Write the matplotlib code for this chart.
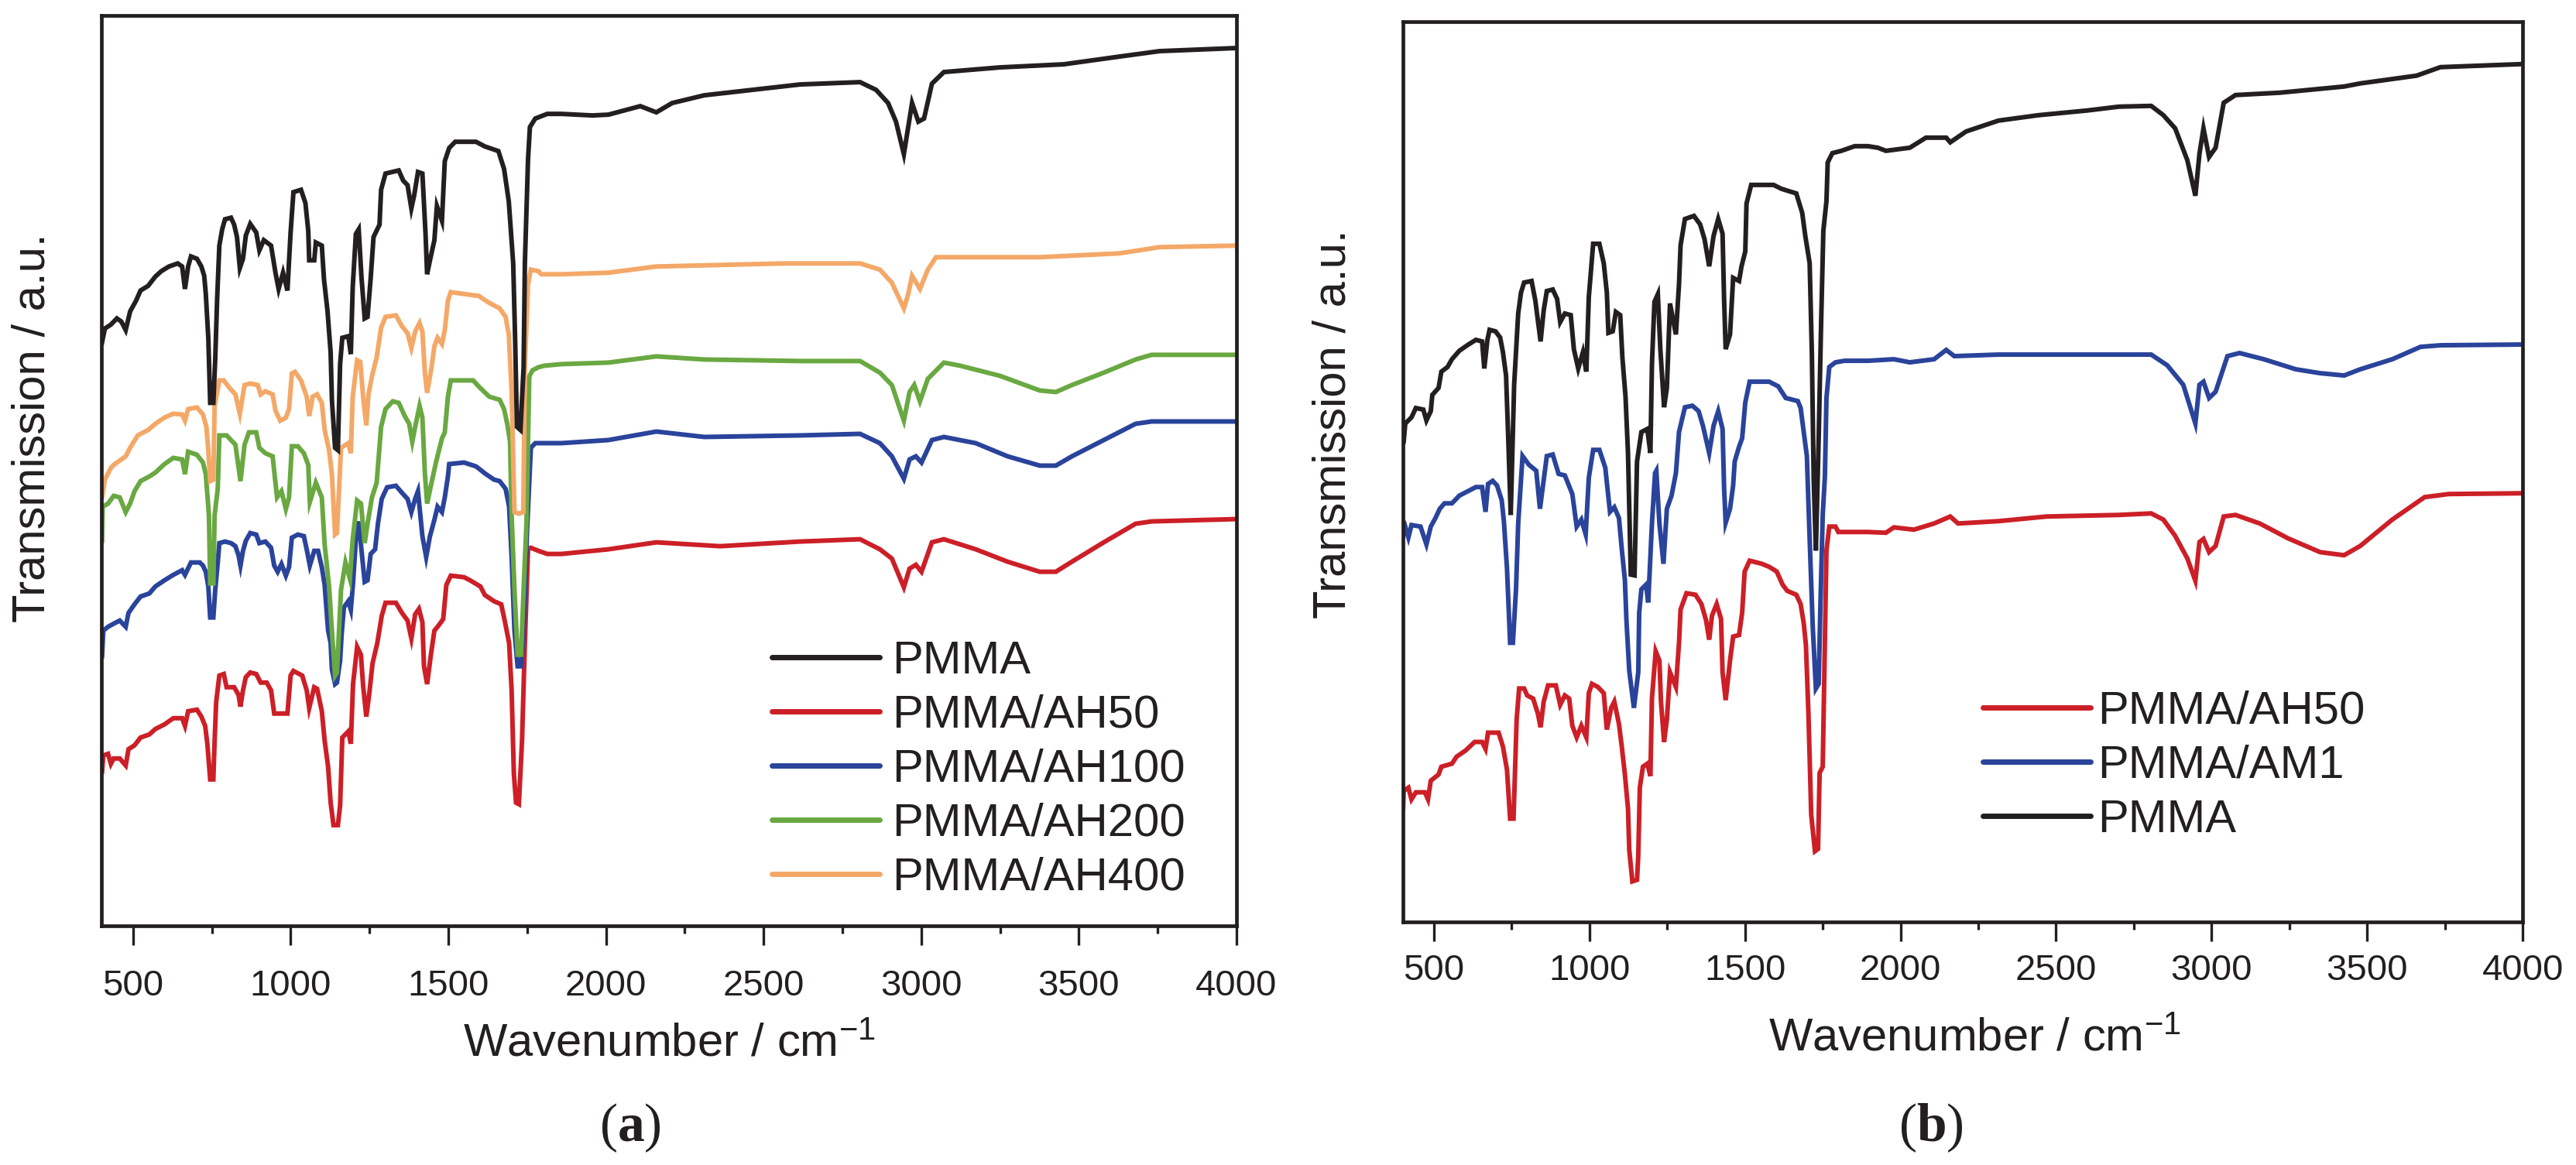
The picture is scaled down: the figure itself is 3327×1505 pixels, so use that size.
import numpy as np
import matplotlib
matplotlib.use("Agg")
from matplotlib import pyplot as plt
from matplotlib.ticker import MultipleLocator

plt.rcParams['font.family'] = ['Liberation Sans', 'DejaVu Sans']
plt.rcParams['mathtext.fontset'] = 'custom'
plt.rcParams['mathtext.rm'] = 'Liberation Sans'
plt.rcParams['mathtext.it'] = 'Liberation Sans:italic'
plt.rcParams['mathtext.bf'] = 'Liberation Serif:bold'

INK = '#231f20'
RED = '#cc1f27'
BLUE = '#2a439b'
GREEN = '#6aa842'
ORANGE = '#f4a868'

# (wavenumber cm-1, transmission a.u.)
# panel (a)
a_pmma = [(402,753),(411,771),(430,776),(449,784),(463,780),(477,769),(491,793),(510,807),(524,820),(548,826),(571,838),(590,845),(614,851),(642,855),(656,851),(665,822),(675,851),(684,864),(703,861),(717,851),(726,839),(731,816),(739,759),(745,675),(755,675),(761,732),(767,809),(774,878),(783,899),(792,912),(811,914),(821,905),(830,889),(839,849),(849,861),(858,891),(872,906),(891,895),(901,872),(915,885),(938,878),(952,843),(962,822),(976,843),(990,820),(1000,895),(1009,947),(1033,950),(1047,933),(1056,897),(1059,859),(1075,859),(1080,882),(1099,878),(1106,834),(1117,794),(1127,740),(1131,679),(1141,617),(1150,614),(1157,725),(1164,759),(1183,761),(1191,738),(1197,824),(1207,893),(1216,899),(1225,836),(1235,784),(1244,786),(1254,836),(1263,889),(1282,905),(1287,950),(1301,971),(1343,975),(1357,962),(1371,956),(1383,926),(1392,943),(1404,973),(1418,971),(1428,893),(1433,841),(1442,859),(1456,885),(1464,929),(1480,910),(1489,987),(1503,1004),(1522,1012),(1588,1012),(1616,1006),(1659,1000),(1677,977),(1692,935),(1706,855),(1712,759),(1718,644),(1729,640),(1739,721),(1743,855),(1753,989),(1759,1031),(1776,1042),(1814,1048),(1859,1048),(1957,1046),(2008,1047),(2109,1058),(2160,1050),(2210,1062),(2312,1072),(2464,1079),(2616,1086),(2806,1089),(2857,1079),(2895,1062),(2920,1038),(2945,996),(2958,1029),(2971,1062),(2991,1038),(3009,1042),(3034,1087),(3072,1102),(3249,1108),(3452,1112),(3629,1122),(3756,1129),(4000,1133)]

a_ah50 = [(402,199),(406,220),(421,222),(430,209),(439,216),(458,216),(477,207),(486,228),(505,233),(524,243),(552,247),(571,254),(600,260),(628,268),(656,268),(665,258),(675,277),(703,279),(717,270),(729,258),(736,235),(745,189),(755,189),(759,239),(764,289),(774,323),(788,325),(797,308),(821,308),(835,298),(841,283),(849,304),(858,321),(872,327),(891,325),(905,314),(924,314),(938,304),(948,274),(971,274),(990,274),(1000,323),(1009,329),(1037,323),(1051,304),(1059,281),(1075,308),(1084,306),(1099,277),(1108,239),(1119,205),(1127,159),(1136,130),(1150,130),(1157,155),(1164,243),(1183,251),(1191,235),(1198,312),(1211,360),(1223,350),(1230,310),(1240,270),(1249,298),(1260,339),(1275,365),(1289,400),(1301,417),(1334,417),(1353,404),(1371,394),(1383,371),(1395,402),(1407,409),(1418,392),(1423,335),(1433,312),(1445,350),(1456,381),(1470,388),(1484,396),(1494,440),(1508,452),(1550,450),(1569,446),(1602,438),(1616,427),(1645,419),(1668,415),(1680,392),(1693,365),(1701,304),(1708,197),(1715,159),(1724,157),(1734,239),(1743,365),(1753,486),(1762,488),(1786,484),(1814,480),(1859,480),(2008,486),(2160,495),(2362,490),(2616,496),(2806,499),(2869,486),(2907,474),(2945,437),(2963,461),(2983,466),(3001,457),(3034,495),(3072,499),(3173,486),(3274,470),(3376,457),(3427,457),(3478,470),(3579,495),(3680,519),(3731,522),(4000,525)]

a_ah100 = [(402,348),(406,381),(421,386),(439,390),(458,394),(477,386),(486,404),(505,415),(524,425),(552,429),(571,438),(600,446),(628,453),(656,459),(665,453),(684,469),(712,469),(722,465),(731,457),(739,438),(745,398),(755,398),(761,434),(769,469),(774,494),(792,496),(811,494),(825,490),(835,478),(841,465),(849,484),(858,497),(872,507),(891,505),(901,494),(920,496),(938,488),(948,465),(959,457),(971,467),(985,452),(995,463),(1004,501),(1023,505),(1042,503),(1051,486),(1061,465),(1075,484),(1087,484),(1099,463),(1108,440),(1113,413),(1119,381),(1127,365),(1131,331),(1141,312),(1147,314),(1157,342),(1162,377),(1169,411),(1183,419),(1191,408),(1198,442),(1207,499),(1216,522),(1226,480),(1235,444),(1244,446),(1254,480),(1268,486),(1277,519),(1289,551),(1306,566),(1334,568),(1353,559),(1371,551),(1383,534),(1395,551),(1404,561),(1418,503),(1430,476),(1442,503),(1456,524),(1466,541),(1480,534),(1489,553),(1499,580),(1503,596),(1550,598),(1588,593),(1607,587),(1616,584),(1645,576),(1663,574),(1682,564),(1693,541),(1701,476),(1710,381),(1720,335),(1731,335),(1739,381),(1750,511),(1762,617),(1776,623),(1859,623),(2008,627),(2160,638),(2312,631),(2616,633),(2806,635),(2869,623),(2907,606),(2945,577),(2963,602),(2983,606),(3001,598),(3034,627),(3072,631),(3173,623),(3274,606),(3376,594),(3427,594),(3478,606),(3579,627),(3680,648),(3731,651),(4000,651)]

a_ah200 = [(402,497),(404,541),(421,545),(439,555),(458,553),(477,534),(491,545),(505,561),(524,574),(552,580),(571,585),(600,596),(628,604),(656,602),(665,583),(675,612),(703,608),(722,598),(731,583),(741,530),(745,442),(755,442),(759,530),(769,564),(774,633),(797,633),(825,621),(841,574),(854,621),(868,637),(891,637),(901,617),(920,610),(943,606),(957,553),(971,561),(985,538),(995,553),(1004,619),(1023,619),(1042,610),(1056,595),(1061,547),(1080,572),(1099,553),(1108,492),(1122,438),(1131,381),(1141,323),(1147,327),(1160,434),(1174,469),(1188,448),(1197,499),(1211,549),(1223,545),(1235,494),(1244,519),(1258,553),(1273,572),(1287,644),(1301,667),(1324,677),(1343,675),(1362,658),(1376,648),(1386,625),(1395,644),(1409,671),(1418,656),(1426,583),(1433,545),(1447,572),(1461,598),(1480,629),(1489,637),(1499,683),(1508,704),(1579,704),(1597,696),(1630,683),(1663,679),(1677,667),(1687,648),(1696,625),(1701,530),(1710,434),(1720,350),(1731,350),(1739,434),(1748,519),(1757,709),(1767,717),(1786,721),(1805,723),(1859,725),(2008,727),(2160,735),(2312,731),(2616,729),(2806,729),(2869,714),(2907,698),(2945,652),(2963,689),(2978,698),(2996,677),(3021,706),(3072,727),(3123,723),(3249,710),(3376,691),(3427,689),(3478,698),(3579,714),(3680,731),(3731,737),(4000,737)]

a_ah400 = [(402,553),(411,576),(430,591),(439,595),(477,606),(491,617),(515,633),(548,640),(571,648),(600,656),(628,661),(656,660),(665,652),(675,667),(703,669),(722,660),(733,644),(739,614),(745,574),(755,576),(759,671),(774,704),(788,704),(807,694),(825,686),(839,661),(854,698),(872,700),(896,698),(905,686),(920,690),(943,686),(952,665),(967,652),(985,656),(995,667),(1004,713),(1014,715),(1033,704),(1051,683),(1059,658),(1070,683),(1084,686),(1099,675),(1108,640),(1122,614),(1131,583),(1141,505),(1147,507),(1160,617),(1183,623),(1191,610),(1197,683),(1211,730),(1221,728),(1230,683),(1240,646),(1247,686),(1258,709),(1273,734),(1287,772),(1301,786),(1334,788),(1353,774),(1371,765),(1383,746),(1395,767),(1409,778),(1418,767),(1426,713),(1433,688),(1447,721),(1456,748),(1466,759),(1480,751),(1489,769),(1499,807),(1508,818),(1541,816),(1597,813),(1626,805),(1663,797),(1682,786),(1692,763),(1701,690),(1710,534),(1724,532),(1738,534),(1743,721),(1753,828),(1762,847),(1786,845),(1795,841),(1859,841),(2008,843),(2160,851),(2362,853),(2565,855),(2806,855),(2869,847),(2907,830),(2945,797),(2958,814),(2971,839),(2996,822),(3021,847),(3047,863),(3123,863),(3376,863),(3629,868),(3756,876),(4000,878)]

# panel (b)
b_ah50 = [(401,146),(403,169),(418,173),(428,158),(442,167),(471,167),(481,158),(490,182),(515,190),(524,200),(558,204),(573,213),(602,221),(631,232),(655,232),(666,223),(674,244),(708,244),(722,226),(735,196),(745,133),(756,133),(761,196),(766,261),(774,301),(790,301),(800,292),(819,288),(834,269),(843,251),(853,284),(867,305),(892,305),(906,280),(921,292),(935,288),(945,253),(959,238),(974,253),(990,238),(998,295),(1008,307),(1027,303),(1046,295),(1056,248),(1070,276),(1080,284),(1095,255),(1104,226),(1114,190),(1124,146),(1128,93),(1138,52),(1153,54),(1157,85),(1162,173),(1172,200),(1186,204),(1196,188),(1201,288),(1213,349),(1225,337),(1230,284),(1240,232),(1249,261),(1259,322),(1278,303),(1288,360),(1293,403),(1312,424),(1341,422),(1360,410),(1375,389),(1385,364),(1394,395),(1409,410),(1423,391),(1428,322),(1438,286),(1452,337),(1462,368),(1481,370),(1491,399),(1499,452),(1515,466),(1554,462),(1578,458),(1602,452),(1621,435),(1636,427),(1665,422),(1679,410),(1689,385),(1696,357),(1704,270),(1713,138),(1725,91),(1735,94),(1740,192),(1750,200),(1757,360),(1762,479),(1771,510),(1791,510),(1800,503),(1895,503),(1953,502),(1979,509),(2043,506),(2108,514),(2160,523),(2185,514),(2315,517),(2470,523),(2702,525),(2806,527),(2845,519),(2883,498),(2922,469),(2948,440),(2961,490),(2974,494),(2992,477),(3013,485),(3039,523),(3077,525),(3155,514),(3245,495),(3349,477),(3426,473),(3478,485),(3581,519),(3685,548),(3762,552),(4000,553)]

b_am1 = [(401,498),(403,517),(418,496),(428,512),(457,510),(476,487),(490,510),(505,521),(519,533),(534,540),(558,540),(582,550),(611,556),(635,561),(655,561),(666,529),(674,565),(689,569),(703,563),(718,544),(725,517),(735,456),(745,360),(754,360),(764,429),(771,514),(785,601),(805,590),(829,582),(841,533),(863,601),(882,603),(901,578),(921,576),(945,552),(959,510),(974,519),(988,500),(998,573),(1012,609),(1032,609),(1051,586),(1056,567),(1066,529),(1080,535),(1095,521),(1104,481),(1114,441),(1119,389),(1128,324),(1143,276),(1157,322),(1160,399),(1167,429),(1182,435),(1189,412),(1201,514),(1211,579),(1215,582),(1225,514),(1238,462),(1249,533),(1264,550),(1278,579),(1288,632),(1307,664),(1331,666),(1351,659),(1365,640),(1385,605),(1399,640),(1414,659),(1428,636),(1433,559),(1438,515),(1452,533),(1462,563),(1467,594),(1481,613),(1491,624),(1501,670),(1515,697),(1578,697),(1607,691),(1631,676),(1670,672),(1679,663),(1689,632),(1699,601),(1708,494),(1718,380),(1728,301),(1737,307),(1742,399),(1750,525),(1757,575),(1762,676),(1771,716),(1791,722),(1820,724),(1895,724),(1979,726),(2030,722),(2108,726),(2147,738),(2173,730),(2315,732),(2702,732),(2806,732),(2858,718),(2909,693),(2948,643),(2961,693),(2974,697),(2992,676),(3013,684),(3051,730),(3090,734),(3168,726),(3271,713),(3349,708),(3426,705),(3478,713),(3581,726),(3672,742),(3736,744),(4000,745)]

b_pmma = [(403,620),(408,643),(428,651),(442,663),(466,661),(476,647),(490,659),(495,680),(515,689),(524,710),(544,716),(558,726),(582,737),(611,745),(635,751),(655,749),(662,714),(672,751),(679,764),(698,762),(713,754),(722,735),(732,705),(739,624),(747,525),(758,693),(771,785),(780,812),(790,825),(814,827),(826,802),(834,777),(843,749),(853,789),(863,814),(882,816),(896,804),(906,774),(921,785),(940,783),(950,739),(964,714),(979,735),(990,710),(998,806),(1012,875),(1032,875),(1046,850),(1056,812),(1061,760),(1075,762),(1085,787),(1099,783),(1106,728),(1116,678),(1124,605),(1133,448),(1145,447),(1153,594),(1167,632),(1186,636),(1196,605),(1201,720),(1209,800),(1220,810),(1228,739),(1240,664),(1249,689),(1259,798),(1278,758),(1288,823),(1293,873),(1307,907),(1336,911),(1356,900),(1370,881),(1385,846),(1399,885),(1414,907),(1428,888),(1433,802),(1438,739),(1452,758),(1462,831),(1481,827),(1489,846),(1501,865),(1505,927),(1520,951),(1592,951),(1617,946),(1665,940),(1684,915),(1694,885),(1708,850),(1715,735),(1721,571),(1728,479),(1737,624),(1744,758),(1752,892),(1762,930),(1766,980),(1781,992),(1810,995),(1853,1001),(1895,1001),(1927,999),(1953,995),(2030,999),(2082,1012),(2147,1012),(2160,1006),(2211,1020),(2315,1034),(2444,1041),(2599,1047),(2702,1052),(2806,1053),(2845,1041),(2883,1024),(2922,983),(2948,937),(2961,991),(2974,1024),(2992,987),(3013,999),(3039,1057),(3077,1067),(3219,1070),(3426,1078),(3478,1082),(3659,1092),(3736,1103),(3866,1105),(4000,1107)]

xticks = [500, 1000, 1500, 2000, 2500, 3000, 3500, 4000]

# drawing order (bottom to top) and legend order are different
series_a = [('PMMA/AH50', a_ah50, RED), ('PMMA/AH100', a_ah100, BLUE),
            ('PMMA/AH200', a_ah200, GREEN), ('PMMA/AH400', a_ah400, ORANGE),
            ('PMMA', a_pmma, INK)]
legend_a = ['PMMA', 'PMMA/AH50', 'PMMA/AH100', 'PMMA/AH200', 'PMMA/AH400']
series_b = [('PMMA/AH50', b_ah50, RED), ('PMMA/AM1', b_am1, BLUE), ('PMMA', b_pmma, INK)]
legend_b = ['PMMA/AH50', 'PMMA/AM1', 'PMMA']


def setup_axes(ax, ymax, pad):
    ax.set_xlim(400, 4000)
    ax.set_ylim(0, ymax)
    ax.set_xticks(xticks)
    ax.xaxis.set_minor_locator(MultipleLocator(250))
    ax.set_yticks([])
    for sp in ax.spines.values():
        sp.set_linewidth(3.4)
        sp.set_color(INK)
    ax.tick_params(axis='x', which='major', direction='out', length=18, width=2.4,
                   color=INK, labelsize=34, labelcolor=INK, pad=pad)
    ax.tick_params(axis='x', which='minor', direction='out', length=7.2, width=2.4, color=INK)


def draw(ax, series, order, anchor, textpad):
    lines = {}
    for name, pts, col in series:
        x, y = np.array(pts).T
        lines[name], = ax.plot(x, y, color=col, lw=4.3, solid_joinstyle='miter')
    leg = ax.legend([lines[n] for n in order], order, loc='upper left', bbox_to_anchor=anchor,
                    frameon=False, fontsize=43, borderpad=0, borderaxespad=0,
                    handlelength=2.33, handletextpad=textpad, labelspacing=0.25)
    for h in leg.get_lines():
        h.set_linewidth(5)
        h.set_solid_capstyle('round')
    for t in leg.get_texts():
        t.set_color(INK)


fig = plt.figure(figsize=(33.27, 15.05), dpi=100)
ax1 = fig.add_axes([0.03937, 0.2053, 0.44064, 0.7814])
ax2 = fig.add_axes([0.54456, 0.20884, 0.43472, 0.77276])

setup_axes(ax1, 1175, 22)
setup_axes(ax2, 1162, 11.5)
draw(ax1, series_a, legend_a, (0.5907, 0.314), 0.27)
draw(ax2, series_b, legend_b, (0.518, 0.257), 0.15)

for ax, xc, lx, ly in [(ax1, 0.5, -0.042, 0.547), (ax2, 0.511, -0.043, 0.553)]:
    ax.set_xlabel(r'Wavenumber / cm$^{-1}$', fontsize=43, color=INK)
    ax.set_ylabel('Transmission / a.u.', fontsize=43, color=INK)
    ax.xaxis.set_label_coords(xc, -0.107)
    ax.yaxis.set_label_coords(lx, ly)

fig.text(0.2447, 0.0319, r'($\mathbf{a}$)', family='Liberation Serif', fontsize=50,
         ha='center', va='center', color=INK)
fig.text(0.7496, 0.0319, r'($\mathbf{b}$)', family='Liberation Serif', fontsize=50,
         ha='center', va='center', color=INK)

fig.savefig('out.png', dpi=100)
